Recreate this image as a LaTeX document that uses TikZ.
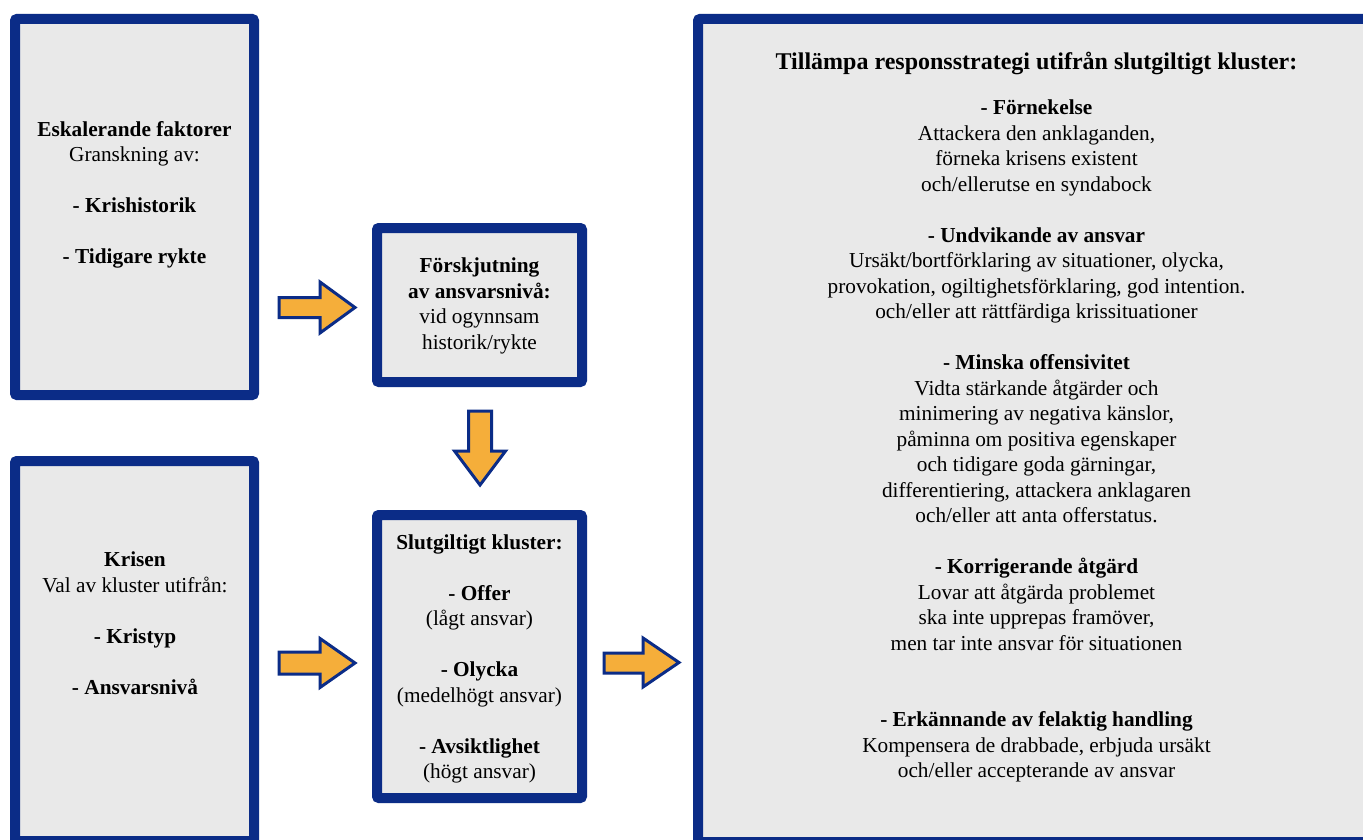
\documentclass[tikz,border=0pt]{standalone}
\usepackage{fontspec}
\setmainfont{Liberation Serif}
\definecolor{navy}{HTML}{0B2C87}
\definecolor{boxgray}{HTML}{E9E9E9}
\definecolor{arroworange}{HTML}{F5AE3A}
\tikzset{
  box/.style={draw=navy, line width=10pt, fill=boxgray, rounded corners=2pt, inner sep=0pt, outer sep=0pt},
  txt/.style={align=center, inner sep=0pt, font=\fontsize{21.3}{25.5}\selectfont},
  bigarrow/.style={draw=navy, line width=3pt, fill=arroworange, line join=miter}
}
\begin{document}
\begin{tikzpicture}[x=1pt,y=-1pt]
\useasboundingbox (0,0) rectangle (1363,840);
\clip (0,0) rectangle (1363,840);
\fill[white] (0,0) rectangle (1363,840);

% boxes
\node[box, minimum width=239pt, minimum height=376pt] (esk) at (134.5,207) {};
\node[box, minimum width=239pt, minimum height=380pt] (kris) at (134.5,651) {};
\node[box, minimum width=205pt, minimum height=154pt] (forsk) at (479.5,305) {};
\node[box, minimum width=205pt, minimum height=283pt] (slut) at (479.5,656.5) {};
\node[box, minimum width=677pt, minimum height=823pt] (resp) at (1036.5,430.5) {};

% texts
\node[txt] (esktext) at (134.5,195) {\textbf{Eskalerande faktorer}\\Granskning av:\\[25.5pt]\textbf{- Krishistorik}\\[25.5pt]\textbf{- Tidigare rykte}};
\node[txt] (kristext) at (135,623) {\textbf{Krisen}\\Val av kluster utifrån:\\[25.5pt]\textbf{- Kristyp}\\[25.5pt]\textbf{- Ansvarsnivå}};
\node[txt] (forsktext) at (479.5,306) {\textbf{Förskjutning}\\\textbf{av ansvarsnivå:}\\vid ogynnsam\\historik/rykte};
\node[txt] (sluttext) at (479.5,659) {\textbf{Slutgiltigt kluster:}\\[25.5pt]\textbf{- Offer}\\(lågt ansvar)\\[25.5pt]\textbf{- Olycka}\\(medelhögt ansvar)\\[25.5pt]\textbf{- Avsiktlighet}\\(högt ansvar)};
\node[txt, font=\fontsize{24}{28}\selectfont\bfseries] (resptitle) at (1036.5,63) {Tillämpa responsstrategi utifrån slutgiltigt kluster:};
\node[txt] (resptext) at (1036.5,441) {\textbf{- Förnekelse}\\Attackera den anklaganden,\\förneka krisens existent\\och/ellerutse en syndabock\\[25.5pt]
\textbf{- Undvikande av ansvar}\\Ursäkt/bortförklaring av situationer, olycka,\\provokation, ogiltighetsförklaring, god intention.\\och/eller att rättfärdiga krissituationer\\[25.5pt]
\textbf{- Minska offensivitet}\\Vidta stärkande åtgärder och\\minimering av negativa känslor,\\påminna om positiva egenskaper\\och tidigare goda gärningar,\\differentiering, attackera anklagaren\\och/eller att anta offerstatus.\\[25.5pt]
\textbf{- Korrigerande åtgärd}\\Lovar att åtgärda problemet\\ska inte upprepas framöver,\\men tar inte ansvar för situationen\\[51pt]
\textbf{- Erkännande av felaktig handling}\\Kompensera de drabbade, erbjuda ursäkt\\och/eller accepterande av ansvar};

% block arrows
\draw[bigarrow] (279,297.5) -- (320,297.5) -- (320,282) -- (355,307.5) -- (320,333) -- (320,317.5) -- (279,317.5) -- cycle;
\draw[bigarrow] (279,652) -- (320,652) -- (320,638.5) -- (355,663) -- (320,687.5) -- (320,674) -- (279,674) -- cycle;
\draw[bigarrow] (604,653) -- (643,653) -- (643,638) -- (679,662.5) -- (643,687) -- (643,673) -- (604,673) -- cycle;
\draw[bigarrow] (468.5,411) -- (468.5,451) -- (454.5,451) -- (480,485) -- (505.5,451) -- (491.5,451) -- (491.5,411) -- cycle;
\end{tikzpicture}
\end{document}
